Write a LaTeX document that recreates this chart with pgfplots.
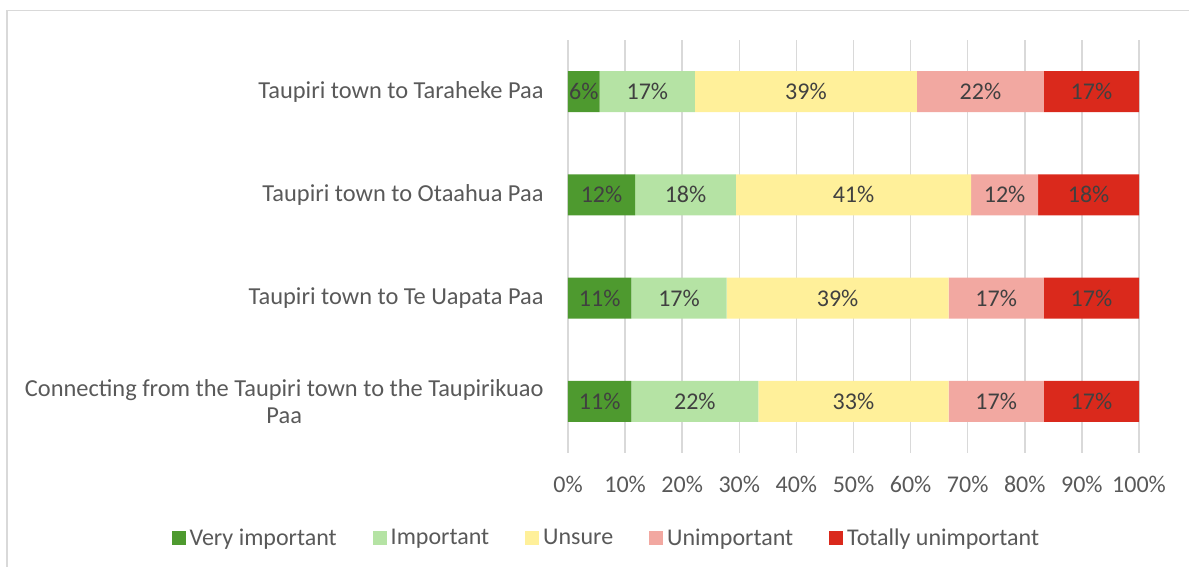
\documentclass[border=0pt]{standalone}
\usepackage{pgfplots}
\pgfplotsset{compat=1.18}
\usepackage{pgfplotstable}
\usepackage{fontspec}
\setmainfont{Carlito}
\definecolor{cvi}{HTML}{4E9A2F}
\definecolor{cimp}{HTML}{B5E3A4}
\definecolor{cuns}{HTML}{FFF09A}
\definecolor{cuni}{HTML}{F2A8A1}
\definecolor{ctot}{HTML}{DA291C}
\definecolor{axtext}{HTML}{595959}
\definecolor{bartext}{HTML}{404040}
\definecolor{gridc}{HTML}{D9D9D9}
\pgfplotstableread{
cat vi imp uns uni tot
0 5.56 16.67 38.89 22.22 16.66
1 11.76 17.65 41.18 11.76 17.65
2 11.11 16.67 38.88 16.67 16.67
3 11.11 22.22 33.33 16.67 16.67
}\datatable
\pgfplotsset{seg/.style={fill=#1, draw=none, point meta=explicit}}
\begin{document}
\begin{tikzpicture}
\useasboundingbox (0,0) rectangle (594.5pt,-283.5pt);
\draw[gridc, line width=0.75pt] (3.5pt,-284pt) -- (3.5pt,-5.25pt) -- (595pt,-5.25pt);
\begin{axis}[
  at={(284pt,-20pt)}, anchor=north west,
  width=285.5pt, height=206.5pt, scale only axis,
  xbar stacked, bar width=20.5pt,
  xmin=0, xmax=100, ymin=-0.5, ymax=3.5, y dir=reverse,
  axis line style={draw=none},
  major tick length=0pt,
  /pgf/number format/assume math mode=true,
  xmajorgrids, grid style={gridc, line width=0.75pt},
  xtick={0,10,...,100},
  xticklabels={0\%,10\%,20\%,30\%,40\%,50\%,60\%,70\%,80\%,90\%,100\%},
  ytick={0,1,2,3},
  yticklabels={Taupiri town to Taraheke Paa, Taupiri town to Otaahua Paa, Taupiri town to Te Uapata Paa, {Connecting from the Taupiri town to the Taupirikuao\\Paa}},
  yticklabel style={align=center, font=\fontsize{12.2}{13.5}\selectfont, text=axtext, xshift=-8.7pt},
  xticklabel style={font=\fontsize{12}{14}\selectfont, text=axtext, yshift=-8pt},
  legend columns=5,
  legend style={draw=none, fill=none, at={(0.069,-0.207)}, anchor=center,
    font=\fontsize{12}{14}\selectfont, text=axtext,
    /tikz/every even column/.append style={column sep=16pt}},
  legend image code/.code={\fill[#1] (0pt,-3.5pt) rectangle (7pt,3.5pt);},
  nodes near coords={\pgfmathprintnumber[fixed,precision=0]{\pgfplotspointmeta}\%},
  every node near coord/.append style={font=\fontsize{12}{14}\selectfont, text=bartext,
    anchor=center},
]
\addplot[seg=cvi] table[x=vi, y=cat, meta=vi] {\datatable};
\addplot[seg=cimp] table[x=imp, y=cat, meta=imp] {\datatable};
\addplot[seg=cuns] table[x=uns, y=cat, meta=uns] {\datatable};
\addplot[seg=cuni] table[x=uni, y=cat, meta=uni] {\datatable};
\addplot[seg=ctot] table[x=tot, y=cat, meta=tot] {\datatable};
\legend{Very important, Important, Unsure, Unimportant, Totally unimportant}
\end{axis}
\end{tikzpicture}
\end{document}
